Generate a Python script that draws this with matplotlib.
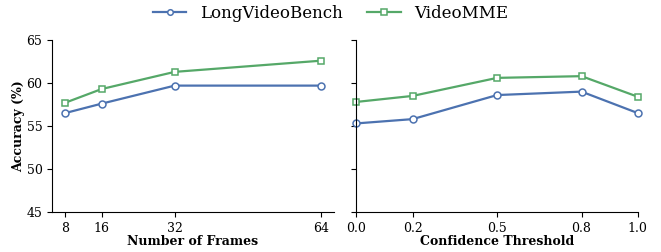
import matplotlib
matplotlib.use("Agg")
import matplotlib.pyplot as plt

plt.rcParams['font.family'] = 'DejaVu Serif'

frames = [8, 16, 32, 64]
lvb_frames = [56.5, 57.6, 59.7, 59.7]
vmme_frames = [57.7, 59.3, 61.3, 62.6]

thresholds = [0.0, 0.2, 0.5, 0.8, 1.0]
lvb_thr = [55.3, 55.8, 58.6, 59.0, 56.5]
vmme_thr = [57.8, 58.5, 60.6, 60.8, 58.4]

blue = '#4C72B0'
green = '#55A868'

fig = plt.figure(figsize=(6.61, 2.52), dpi=100)
ax1 = fig.add_axes([0.079, 0.159, 0.426, 0.682])
ax2 = fig.add_axes([0.539, 0.159, 0.426, 0.682], sharey=ax1)

kw = dict(lw=1.6, markersize=5, markerfacecolor='white', markeredgewidth=1.1)
l1, = ax1.plot(frames, lvb_frames, '-o', color=blue, label='LongVideoBench', **kw)
l2, = ax1.plot(frames, vmme_frames, '-s', color=green, label='VideoMME', **kw)
ax2.plot(thresholds, lvb_thr, '-o', color=blue, clip_on=False, **kw)
ax2.plot(thresholds, vmme_thr, '-s', color=green, clip_on=False, **kw)

ax1.set_xticks(frames)
ax1.set_ylim(45, 65)
ax1.set_yticks([45, 50, 55, 60, 65])
ax1.set_ylabel('Accuracy (%)', fontweight='bold', fontsize=9, labelpad=1)
ax1.set_xlabel('Number of Frames', fontweight='bold', fontsize=9, labelpad=0.5)

ax2.set_xlim(0, 1)
ax2.set_xticks(thresholds)
ax2.set_xticklabels(['0.0', '0.2', '0.5', '0.8', '1.0'])
ax2.set_xlabel('Confidence Threshold', fontweight='bold', fontsize=9, labelpad=0.5)
ax2.tick_params(axis='y', labelleft=False)

for ax in (ax1, ax2):
    ax.spines['top'].set_visible(False)
    ax.spines['right'].set_visible(False)
    ax.tick_params(labelsize=9, length=3.5)

fig.legend(handles=[l1, l2], loc='upper center', ncol=2, frameon=False,
           fontsize=12, bbox_to_anchor=(0.5, 1.04), handlelength=2,
           columnspacing=1.5, markerscale=0.8)

fig.savefig('out.png', dpi=100)
